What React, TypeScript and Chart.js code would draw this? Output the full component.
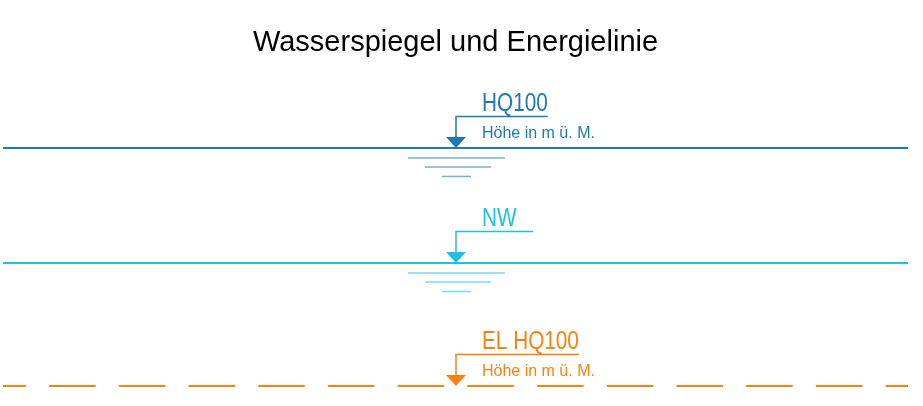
import React, { useEffect, useRef } from "react";
import { Chart, registerables } from "chart.js";

Chart.register(...registerables);

// ---- data ----
const chartTitle = "Wasserspiegel und Energielinie";
const xExtent = [0, 100];
const markerX = 50;
const seriesNames = ["HQ100", "NW", "EL HQ100"];
const seriesLevels = [78.5, 42.1, 3.2];
const seriesSubtitles = ["Höhe in m ü. M.", "", "Höhe in m ü. M."];
const seriesGround = [true, true, false];
const seriesDashed = [false, false, true];
const seriesColors = ["#1f77b4", "#1fbfe6", "#ff7f0e"];

const LABEL_FONT = "25px 'Liberation Sans', Arial, sans-serif";
const LABEL_SCALE_X = 0.83;
const SUB_FONT = "16px 'Liberation Sans', Arial, sans-serif";

const symbolPlugin = {
  id: "waterSymbols",
  afterDatasetsDraw(chart: any) {
    const ctx = chart.ctx;
    const xs = chart.scales.x;
    const ys = chart.scales.y;
    chart.data.datasets.forEach((ds: any, i: number) => {
      const color = seriesColors[i];
      const x0 = Math.round(xs.getPixelForValue(markerX));
      const y0 = ys.getPixelForValue(seriesLevels[i]);
      ctx.save();
      // triangle
      ctx.fillStyle = color;
      ctx.beginPath();
      ctx.moveTo(x0 - 10, y0 - 11);
      ctx.lineTo(x0 + 10, y0 - 11);
      ctx.lineTo(x0, y0);
      ctx.closePath();
      ctx.fill();
      // label
      ctx.font = LABEL_FONT;
      const tw = ctx.measureText(seriesNames[i]).width * LABEL_SCALE_X;
      const lineEnd = x0 + 26 + Math.max(tw, 51);
      ctx.strokeStyle = color;
      ctx.lineWidth = 1.5;
      ctx.beginPath();
      ctx.moveTo(x0, y0 - 11);
      ctx.lineTo(x0, y0 - 31.5);
      ctx.lineTo(lineEnd, y0 - 31.5);
      ctx.stroke();
      ctx.textBaseline = "alphabetic";
      ctx.textAlign = "left";
      ctx.save();
      ctx.translate(x0 + 26, y0 - 37);
      ctx.scale(LABEL_SCALE_X, 1);
      ctx.fillText(seriesNames[i], 0, 0);
      ctx.restore();
      if (seriesSubtitles[i]) {
        ctx.font = SUB_FONT;
        ctx.fillText(seriesSubtitles[i], x0 + 26, y0 - 10);
      }
      // ground lines
      if (seriesGround[i]) {
        ctx.globalAlpha = 0.6;
        ctx.lineWidth = 1.5;
        const g = [
          [-48, 49, 10],
          [-31, 35, 19],
          [-14, 15, 28.5],
        ];
        g.forEach(([a, b, dy]) => {
          ctx.beginPath();
          ctx.moveTo(x0 + a, y0 + dy);
          ctx.lineTo(x0 + b, y0 + dy);
          ctx.stroke();
        });
      }
      ctx.restore();
    });
  },
};

const bgPlugin = {
  id: "bg",
  beforeDraw(chart: any) {
    const ctx = chart.ctx;
    ctx.save();
    ctx.fillStyle = "#ffffff";
    ctx.fillRect(0, 0, chart.width, chart.height);
    ctx.restore();
  },
};

export default function App() {
  const ref = useRef<HTMLCanvasElement>(null);
  useEffect(() => {
    if (!ref.current) return;
    const chart = new Chart(ref.current, {
      type: "line",
      data: {
        datasets: seriesNames.map((name, i) => ({
          label: name,
          data: [
            { x: xExtent[0], y: seriesLevels[i] },
            { x: xExtent[1], y: seriesLevels[i] },
          ],
          borderColor: seriesColors[i],
          backgroundColor: seriesColors[i],
          borderWidth: 2,
          pointRadius: 0,
          borderDash: seriesDashed[i] ? [46.5, 23.2] : [],
          borderDashOffset: seriesDashed[i] ? 23.5 : 0,
          fill: false,
        })),
      },
      options: {
        animation: false,
        responsive: true,
        maintainAspectRatio: false,
        layout: { padding: { left: 3, right: 15, top: 0, bottom: 10 } },
        scales: {
          x: { type: "linear", min: xExtent[0], max: xExtent[1], display: false },
          y: { type: "linear", min: 0, max: 100, display: false },
        },
        plugins: {
          legend: { display: false },
          tooltip: { enabled: false },
          title: {
            display: true,
            text: chartTitle,
            color: "#000000",
            font: { family: "'Liberation Sans', Arial, sans-serif", size: 29, weight: "normal", lineHeight: 1.2 },
            padding: { top: 26, bottom: 19.2 },
          },
        },
      },
      plugins: [bgPlugin, symbolPlugin],
    });
    return () => chart.destroy();
  }, []);
  return (
    <div style={{ position: "fixed", left: 0, top: 0, width: 923, height: 406, background: "#fff" }}>
      <canvas ref={ref} />
    </div>
  );
}
